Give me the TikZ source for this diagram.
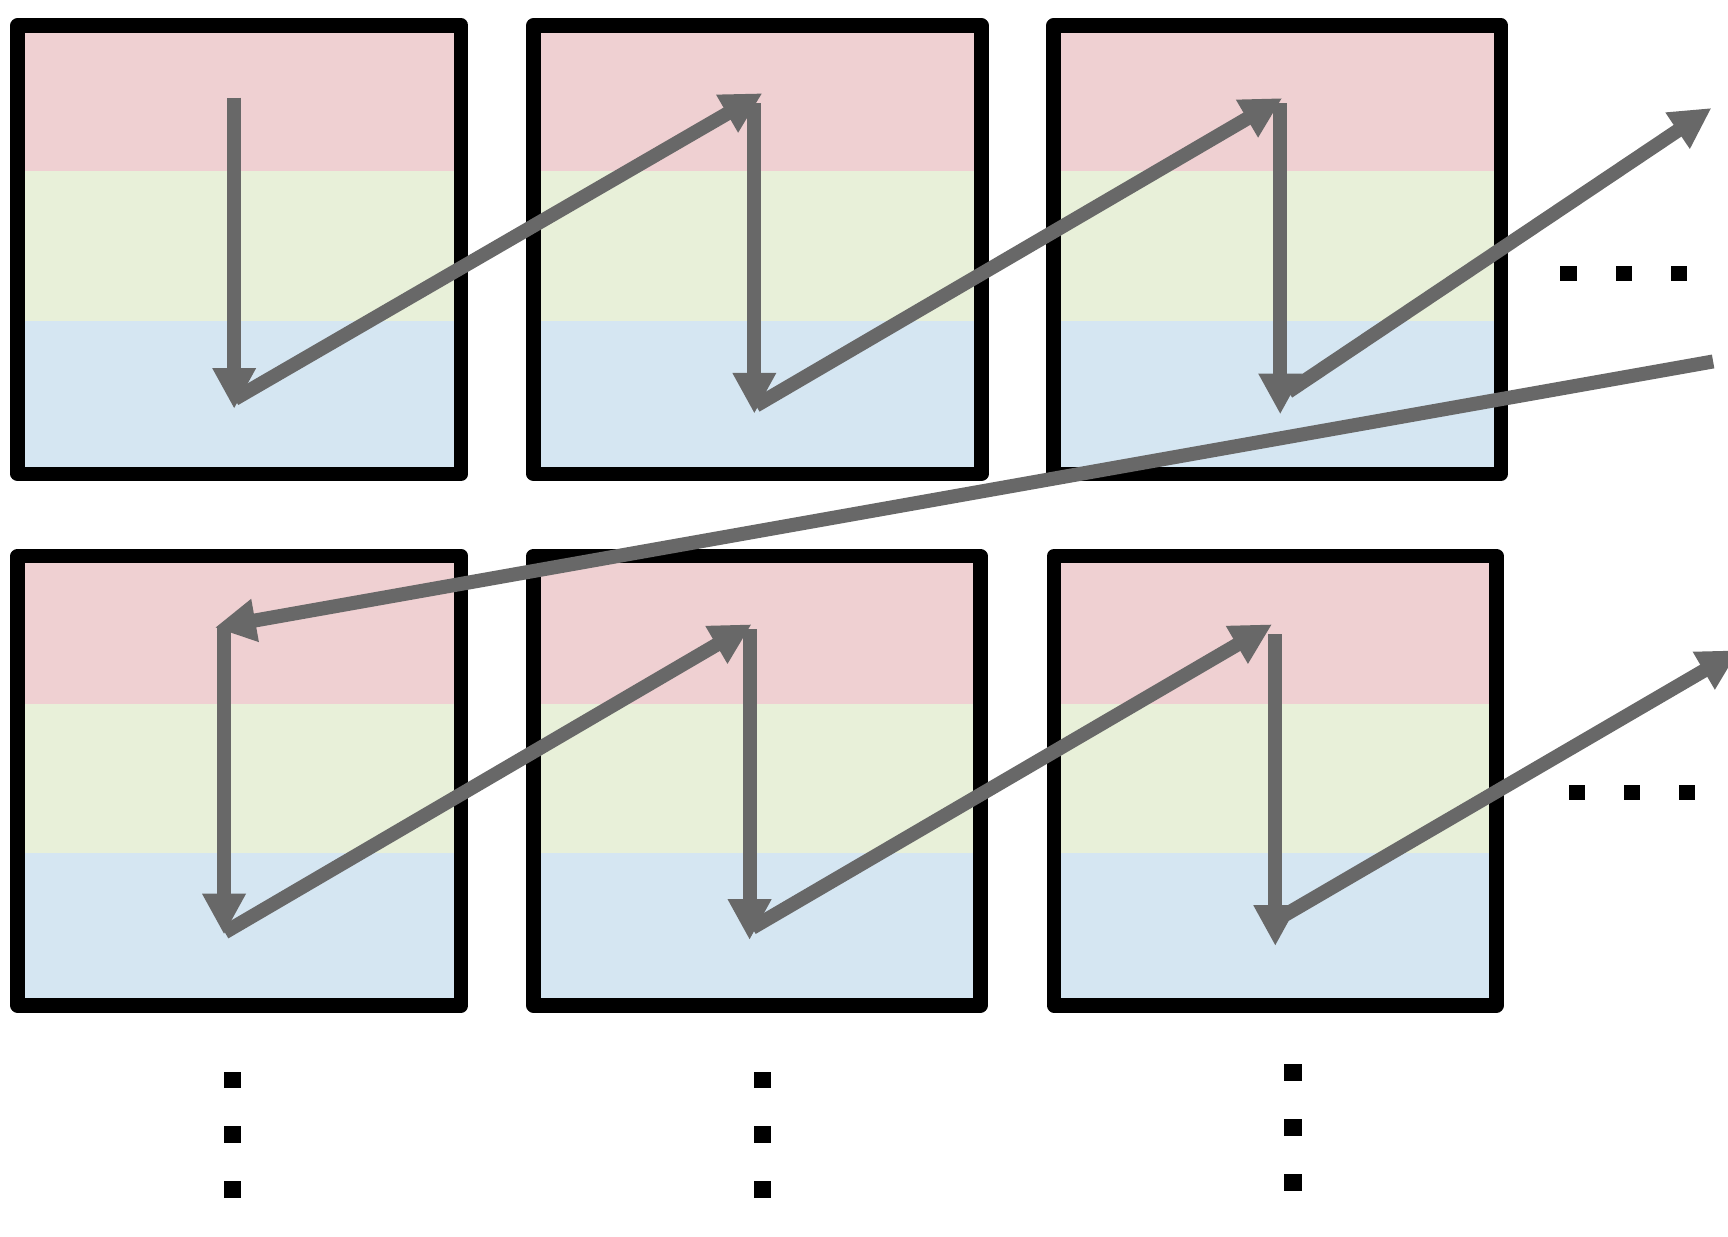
\documentclass[tikz,border=0pt]{standalone}
\usetikzlibrary{arrows.meta}
\definecolor{bandpink}{RGB}{239,208,210}
\definecolor{bandgreen}{RGB}{232,240,217}
\definecolor{bandblue}{RGB}{213,230,242}
\definecolor{arrowgray}{RGB}{104,104,104}
\tikzset{
  cellborder/.style={draw=black, line width=0.13cm, line join=round},
  flow/.style={draw=arrowgray, line width=0.127cm, -{Triangle[length=0.37cm, width=0.37cm]}},
  hdot/.style={fill=black, rectangle, inner sep=0pt, minimum width=0.15cm, minimum height=0.14cm},
  vdot/.style={fill=black, rectangle, inner sep=0pt, minimum width=0.16cm, minimum height=0.15cm},
}
\begin{document}
\begin{tikzpicture}[x=0.01cm, y=-0.01cm]
\useasboundingbox (0,0) rectangle (1568,1122.45);

% boxes with three colour bands
\foreach \xa/\xb/\ya/\yb/\ga/\gb in {
  16/418.5/23.1/429.9/155.5/291.5,
  484/890.6/23.1/429.9/155.5/291.5,
  956/1362/23.1/429.9/155.5/291.5,
  16/418.5/504.6/912.3/638.4/774.3,
  484/889.6/504.6/912.3/638.4/774.3,
  956.5/1358/504.6/912.3/638.4/774.3}{
  \fill[bandpink] (\xa,\ya) rectangle (\xb,\ga);
  \fill[bandgreen] (\xa,\ga) rectangle (\xb,\gb);
  \fill[bandblue] (\xa,\gb) rectangle (\xb,\yb);
  \draw[cellborder] (\xa,\ya) rectangle (\xb,\yb);
}

% arrow end points
\coordinate (v1s) at (212.5,88.5);   \coordinate (v1t) at (212.5,371);
\coordinate (d1s) at (213,362);      \coordinate (d1t) at (691.8,84.6);
\coordinate (v2s) at (684.5,93.6);   \coordinate (v2t) at (684.5,375.4);
\coordinate (d2s) at (686,368);      \coordinate (d2t) at (1163.5,89);
\coordinate (v3s) at (1161.7,93.6);  \coordinate (v3t) at (1161.7,376);
\coordinate (d3s) at (1169,355.5);   \coordinate (d3t) at (1553,98);
\coordinate (ls)  at (1554.5,328);   \coordinate (lt)  at (195,569.5);
\coordinate (v4s) at (203.3,568.3);  \coordinate (v4t) at (203.3,848);
\coordinate (d4s) at (204,846);      \coordinate (d4t) at (682,566.5);
\coordinate (v5s) at (680.2,571);    \coordinate (v5t) at (680.2,853);
\coordinate (d5s) at (682.5,842);    \coordinate (d5t) at (1154.3,566.5);
\coordinate (v6s) at (1157.2,575.6); \coordinate (v6t) at (1157.2,858.4);
\coordinate (d6s) at (1164.3,831.2); \coordinate (d6t) at (1578,590);

% arrows
\draw[flow] (v1s) -- (v1t);
\draw[flow] (d1s) -- (d1t);
\draw[flow] (v2s) -- (v2t);
\draw[flow] (d2s) -- (d2t);
\draw[flow] (v3s) -- (v3t);
\draw[flow] (d3s) -- (d3t);
\draw[flow] (ls) -- (lt);
\draw[flow] (v4s) -- (v4t);
\draw[flow] (d4s) -- (d4t);
\draw[flow] (v5s) -- (v5t);
\draw[flow] (d5s) -- (d5t);
\draw[flow] (v6s) -- (v6t);
\draw[flow] (d6s) -- (d6t);

% horizontal ellipses
\node[hdot] (h11) at (1423.5,248) {};
\node[hdot] (h12) at (1473.5,248) {};
\node[hdot] (h13) at (1523.5,248) {};
\node[hdot] (h21) at (1431,719) {};
\node[hdot] (h22) at (1481,719) {};
\node[hdot] (h23) at (1531,719) {};

% vertical ellipses
\node[vdot] (c11) at (211,980) {};
\node[vdot] (c12) at (211,1029.5) {};
\node[vdot] (c13) at (211,1079.5) {};
\node[vdot] (c21) at (692,980) {};
\node[vdot] (c22) at (692,1029.5) {};
\node[vdot] (c23) at (692,1079.5) {};
\node[vdot] (c31) at (1173,973.4) {};
\node[vdot] (c32) at (1173,1023.2) {};
\node[vdot] (c33) at (1173,1073) {};
\end{tikzpicture}
\end{document}
